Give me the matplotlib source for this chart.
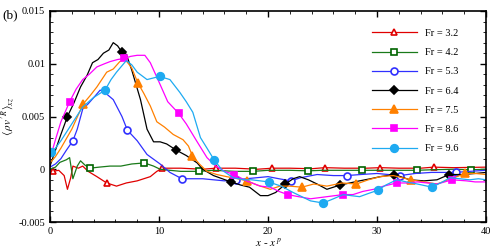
import matplotlib
matplotlib.use('Agg')
import matplotlib.pyplot as plt
from matplotlib.ticker import MultipleLocator, FuncFormatter

plt.rcParams['font.family'] = 'Liberation Serif'
plt.rcParams['mathtext.fontset'] = 'stix'

### data (y in units of 1e-3)
labels = ['Fr = 3.2', 'Fr = 4.2', 'Fr = 5.3', 'Fr = 6.4', 'Fr = 7.5', 'Fr = 8.6', 'Fr = 9.6']

x_32 = [0, 0.25, 0.8, 1.3, 1.6, 1.9, 2.1, 2.6, 3.0, 3.5, 4.3, 5.2, 6.1, 7.0, 8.0, 9.2, 9.8, 10.3,
        12, 14, 15.2, 17, 19, 20.4, 22, 24, 25.2, 27, 29, 30.3, 32, 34, 35.2, 37, 40]
y_32 = [0, -0.2, -0.1, -0.6, -1.9, -0.8, 0.3, 0.1, 0.3, -0.2, -0.7, -1.3, -1.6, -1.3, -1.1, -0.7, -0.2, 0.1,
        0.1, 0.0, 0.1, 0.1, 0.0, 0.1, 0.1, 0.05, 0.15, 0.1, 0.1, 0.15, 0.1, 0.1, 0.2, 0.15, 0.2]
m_32 = [0.25, 5.2, 10.3, 15.2, 20.4, 25.2, 30.3, 35.2]

x_42 = [0, 0.5, 0.9, 1.5, 1.8, 2.1, 2.5, 2.8, 3.2, 3.65, 4.5, 5.5, 6.5, 7.5, 8.65, 9.5, 10.1, 11, 12,
        13.65, 15, 17, 18.65, 20, 22, 23.65, 25, 27, 28.65, 30, 32, 33.65, 35, 37, 38.65, 40]
y_42 = [0, 0.2, 0.65, 0.9, 1.1, -0.9, 0.3, 0.8, 0.4, 0.1, 0.2, 0.3, 0.3, 0.5, 0.6, 0.3, 0.0, -0.1, -0.2,
        -0.2, -0.1, -0.2, -0.2, -0.1, -0.1, -0.15, -0.1, -0.1, -0.1, -0.1, -0.1, -0.1, -0.05, 0, -0.05, 0]
m_42 = [3.65, 8.65, 13.65, 18.65, 23.65, 28.65, 33.65, 38.65]

x_53 = [0, 0.5, 1.0, 1.5, 2.1, 2.5, 3.0, 3.5, 4.1, 4.6, 5.0, 5.8, 6.6, 7.1, 8.0, 8.9, 10.1, 11, 12.1,
        13, 14, 15, 16, 17.1, 18, 19, 20, 21, 22.1, 23, 24.5, 26, 27.2, 28.5, 30, 32.1, 33.5, 35,
        37.2, 38.5, 40]
y_53 = [0.2, 0.5, 1.0, 1.8, 2.7, 3.8, 5.7, 6.2, 6.9, 7.5, 7.3, 6.6, 5.0, 3.7, 2.7, 1.4, 0.5, -0.3, -0.9,
        -0.9, -0.9, -1.0, -1.1, -1.0, -0.9, -0.8, -0.7, -0.9, -1.1, -0.8, -0.5, -0.6, -0.6, -0.5, -0.4,
        -0.6, -0.4, -0.3, -0.3, -0.2, -0.1]
m_53 = [2.1, 7.1, 12.1, 17.1, 22.1, 27.2, 32.1, 37.2]

x_64 = [0, 0.5, 1.0, 1.6, 2.2, 2.8, 3.4, 3.9, 4.4, 4.9, 5.4, 5.8, 6.2, 6.6, 7.0, 7.5, 8.3, 8.9, 9.5,
        10.1, 10.7, 11.6, 12.5, 13.5, 14.0, 15.0, 16.6, 17.5, 18.3, 19.3, 20.0, 20.7, 21.6, 22.3, 22.9,
        23.7, 24.5, 25.4, 26.6, 27.5, 28.4, 29.4, 30.3, 31.6, 33.0, 34.3, 35.5, 36.6, 37.8, 39, 40]
y_64 = [0.3, 1.8, 3.3, 5.0, 6.3, 7.8, 8.9, 10.1, 10.4, 11.0, 11.3, 12.0, 11.7, 11.1, 10.9, 9.4, 6.6, 3.8, 2.6,
        2.6, 2.4, 1.8, 1.3, 0.6, 0.0, -0.6, -1.2, -1.5, -1.7, -2.5, -2.5, -2.2, -1.4, -0.9, -0.7,
        -1.0, -1.4, -1.9, -1.5, -1.3, -1.1, -0.9, -0.7, -0.5, -1.0, -1.1, -1.0, -0.5, -0.5, -0.4, -0.3]
m_64 = [1.6, 6.6, 11.6, 16.6, 21.6, 26.6, 31.6, 36.6]

x_75 = [0, 0.5, 1.0, 2.0, 3.05, 3.7, 4.3, 5.2, 5.8, 6.4, 6.9, 7.5, 8.05, 8.6, 9.2, 9.8, 10.5, 11.3,
        12.2, 12.7, 13.05, 13.7, 14.4, 15.3, 16.2, 17.2, 18.1, 19.0, 20.2, 21.1, 22.0, 23.1, 24.2,
        25.4, 26.8, 28.1, 29.2, 30.3, 31.5, 33.1, 34.3, 35.5, 36.8, 38.1, 39, 40]
y_75 = [0.6, 1.2, 2.0, 3.8, 6.2, 7.0, 7.8, 9.2, 9.5, 10.2, 10.4, 9.6, 8.2, 7.2, 6.0, 4.5, 4.0, 3.3,
        2.8, 2.2, 1.3, 0.5, -0.2, -0.5, -0.7, -0.9, -1.1, -1.5, -1.9, -1.6, -1.6, -1.7, -1.4,
        -1.6, -1.3, -1.4, -1.0, -0.7, -0.6, -1.0, -1.2, -1.4, -0.9, -0.4, -0.4, -0.5]
m_75 = [3.05, 8.05, 13.05, 18.1, 23.1, 28.1, 33.1, 38.1]

x_86 = [0, 0.5, 1.0, 1.8, 2.4, 3.0, 3.6, 4.3, 5.0, 5.5, 6.2, 6.8, 7.4, 8.0, 8.7, 9.2, 9.9, 10.8,
        11.8, 12.5, 13.5, 14.4, 15.2, 16.0, 16.9, 18.0, 19.3, 20.2, 21.0, 21.8, 22.8, 23.9, 25.4,
        26.9, 27.8, 28.7, 29.7, 30.6, 31.8, 32.7, 33.7, 34.6, 35.5, 36.9, 38.2, 39, 40]
y_86 = [1.0, 2.8, 4.5, 6.4, 7.6, 8.5, 9.0, 9.7, 10.0, 10.2, 10.4, 10.5, 10.7, 10.8, 10.8, 10.1, 8.5, 6.4,
        5.3, 4.3, 2.6, 1.1, 0.3, -0.2, -0.5, -1.1, -1.6, -1.7, -2.1, -2.4, -2.6, -2.8, -2.6,
        -2.4, -2.4, -2.1, -1.9, -1.6, -1.3, -1.3, -1.2, -1.3, -1.4, -1.0, -1.1, -1.2, -1.2]
m_86 = [1.8, 6.8, 11.8, 16.9, 21.8, 26.9, 31.8, 36.9]

x_96 = [0.05, 0.5, 1.0, 2.0, 3.0, 4.0, 5.05, 5.6, 6.1, 7.0, 7.5, 8.0, 8.9, 10.05, 11.0, 11.9, 12.5,
        13.1, 13.8, 14.4, 15.05, 15.8, 16.8, 17.8, 18.5, 20.05, 21.2, 22.3, 23.9, 25.05, 26.0, 26.9,
        27.6, 28.4, 29.2, 30.05, 30.8, 31.8, 32.7, 33.7, 35.05, 36.0, 36.7, 37.6, 38.5, 39.3, 40]
y_96 = [1.6, 2.0, 2.7, 4.3, 5.9, 6.8, 7.5, 8.5, 9.2, 10.3, 9.9, 9.2, 8.5, 8.8, 8.5, 7.3, 6.4,
        5.4, 3.0, 2.0, 0.9, -0.1, -0.8, -1.0, -1.0, -1.2, -1.6, -2.2, -3.0, -3.2, -2.8, -2.4,
        -2.5, -2.6, -2.3, -2.0, -1.5, -1.0, -1.2, -1.4, -1.7, -1.2, -0.8, -0.9, -1.0, -0.9, -1.0]
m_96 = [0.05, 5.05, 10.05, 15.05, 20.05, 25.05, 30.05, 35.05]

series = [(x_32, y_32, m_32), (x_42, y_42, m_42), (x_53, y_53, m_53), (x_64, y_64, m_64),
          (x_75, y_75, m_75), (x_86, y_86, m_86), (x_96, y_96, m_96)]

colors = ['#e00000', '#1a7a1a', '#3030ff', 'black', '#ff8000', '#ff00ff', '#1eaaf1']
edge = ['#e00000', '#006400', '#3030ff', 'black', '#ff8000', '#ff00ff', '#1eaaf1']
markers = ['^', 's', 'o', 'D', '^', 's', 'o']
faces = ['white', 'white', 'white', 'black', '#ff8000', '#ff00ff', '#1eaaf1']
msizes = [5, 4.5, 5, 4, 5.5, 5, 5.5]

fig = plt.figure(figsize=(4.97, 2.5), dpi=100)
ax = fig.add_axes([0.1006, 0.112, 0.8774, 0.844])

for k, (xs, ys, ms) in enumerate(series):
    idx = [xs.index(m) for m in ms]
    ax.plot(xs, [v * 1e-3 for v in ys], color=colors[k], lw=0.9,
            marker=markers[k], markevery=idx, ms=msizes[k],
            mfc=faces[k], mec=edge[k], mew=1.2, label=labels[k])

ax.set_xlim(0, 40)
ax.set_ylim(-0.005, 0.015)
ax.xaxis.set_major_locator(MultipleLocator(10))
ax.xaxis.set_minor_locator(MultipleLocator(2))
ax.yaxis.set_major_locator(MultipleLocator(0.005))
ax.yaxis.set_minor_locator(MultipleLocator(0.001))
ax.yaxis.set_major_formatter(FuncFormatter(lambda v, p: '0' if abs(v) < 1e-9 else '%g' % v))
ax.tick_params(which='both', direction='in', top=True, right=True, labelsize=7.5)
ax.tick_params(which='major', length=4, width=1)
ax.tick_params(which='minor', length=2, width=0.6)
for s in ax.spines.values():
    s.set_linewidth(1.2)

ax.set_xlabel(r'$x$ - $x^{\,p}$', fontsize=8, labelpad=1)
ax.set_ylabel(r'$\langle\,\overline{\rho v^{\prime}}^{\,R}\rangle_{xz}$', fontsize=8, labelpad=2)
fig.text(0.004, 0.925, '(b)', fontsize=9.5)

leg = ax.legend(loc='upper right', bbox_to_anchor=(0.958, 0.96), frameon=False, fontsize=7.5,
                handlelength=4.3, labelspacing=0.95, handletextpad=0.8)

fig.savefig('out.png', dpi=100)
